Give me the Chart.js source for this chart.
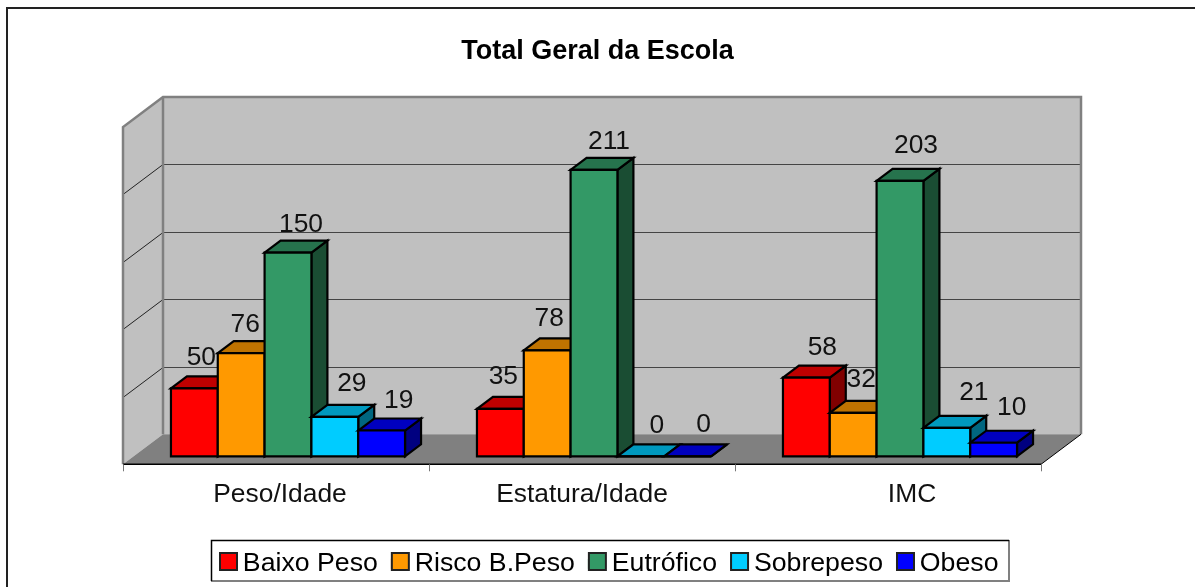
<!DOCTYPE html>
<html><head><meta charset="utf-8">
<style>html,body{margin:0;padding:0;background:#fff;overflow:hidden}#box{position:relative;width:1195px;height:587px}</style>
<script src="https://cdn.jsdelivr.net/npm/chart.js@4"></script>
</head><body><div id="box"><canvas id="c" width="1195" height="587"></canvas></div>
<script>
const categories = ["Peso/Idade", "Estatura/Idade", "IMC"];
const baixoPeso = [50, 35, 58];
const riscoBPeso = [76, 78, 32];
const eutrofico = [150, 211, 203];
const sobrepeso = [29, 0, 21];
const obeso = [19, 0, 10];
const seriesNames = ["Baixo Peso", "Risco B.Peso", "Eutrófico", "Sobrepeso", "Obeso"];
const seriesValues = [baixoPeso, riscoBPeso, eutrofico, sobrepeso, obeso];
const seriesColors = ["#ff0000", "#ff9900", "#339966", "#00ccff", "#0000ff"];
const yTicksMax = 250, yTickStep = 50;

const FONT = '"Liberation Sans", Arial, sans-serif';
const FS = 26.4;
const BAR_DEPTH = {x: 16, y: -12};
const BACK = {x: 28, y: -22, top: -20};
const FRONT = {x: -12, y: 8, top: 10};
// label nudges relative to bar centre/top, [series][category]
const labelDX = [[7,3,16],[4,2,8],[13,15,16],[17,16,27],[17,16,18]];
const labelDY = [[-33,-34,-32],[-30,-34,-35],[-30,-30,-37],[-35,-33,-37],[-32,-34,-37]];
const tickNudge = [-8, -12, 12];

function shade(hex, f){
  const n = parseInt(hex.slice(1),16);
  const c = s => Math.round(((n>>s)&255)*f);
  return `rgb(${c(16)},${c(8)},${c(0)})`;
}
function poly(ctx, pts, fill, stroke, lw){
  ctx.beginPath();
  pts.forEach((p,i)=> i?ctx.lineTo(p[0],p[1]):ctx.moveTo(p[0],p[1]));
  ctx.closePath();
  if(fill){ctx.fillStyle=fill;ctx.fill();}
  if(stroke){ctx.strokeStyle=stroke;ctx.lineWidth=lw;ctx.lineJoin='miter';ctx.stroke();}
}
function barFaces(ctx, meta, col){
  const d = BAR_DEPTH;
  meta.data.forEach(b=>{
    const l=b.x-b.width/2, r=b.x+b.width/2, t=b.y, bs=b.base;
    poly(ctx,[[r,t],[r+d.x,t+d.y],[r+d.x,bs+d.y],[r,bs]],shade(col,0.5),'#000',2.2);
    poly(ctx,[[l,t],[l+d.x,t+d.y],[r+d.x,t+d.y],[r,t]],shade(col,0.75),'#000',2.2);
  });
}
function barOutlines(ctx, meta){
  meta.data.forEach(b=>{
    const l=b.x-b.width/2, r=b.x+b.width/2;
    poly(ctx,[[l,b.y],[r,b.y],[r,b.base],[l,b.base]],null,'#000',2.2);
  });
}
const scene3d = {
  id:'scene3d',
  afterLayout(chart){
    const lg = chart.legend, pad = lg.options.labels.padding;
    const dx = 219 - (lg.left + pad + lg.right - lg.lineWidths[0]) / 2;
    lg.left += dx; lg.right += dx;
    chart.titleBlock.left += 3.5; chart.titleBlock.right += 3.5;
  },
  beforeDraw(chart){
    const ctx = chart.ctx;
    ctx.save();
    ctx.fillStyle='#fff';ctx.fillRect(0,0,chart.width,chart.height);
    ctx.strokeStyle='#222';ctx.lineWidth=2;
    ctx.beginPath();ctx.moveTo(7,587);ctx.lineTo(7,8);ctx.lineTo(1195,8);ctx.stroke();
    ctx.strokeStyle='#808080';ctx.lineWidth=2;
    ctx.beginPath();ctx.moveTo(1009,540);ctx.lineTo(1009,581);ctx.lineTo(211,581);ctx.stroke();
    ctx.strokeStyle='#000';ctx.lineWidth=1.5;
    ctx.beginPath();ctx.moveTo(211.5,581);ctx.lineTo(211.5,540.5);ctx.lineTo(1009,540.5);ctx.stroke();
    ctx.restore();
    chart.scales.x.getLabelItems(chart.chartArea).forEach((it,i)=>{
      if(!it._nudged){it.options.translation[0]+=tickNudge[i];it._nudged=true;}
    });
  },
  beforeDatasetsDraw(chart){
    const ctx = chart.ctx, a = chart.chartArea, ys = chart.scales.y;
    const bl = a.left+BACK.x, br = a.right+BACK.x, bt = a.top+BACK.top, bb = a.bottom+BACK.y;
    const fl = a.left+FRONT.x, fr = a.right+FRONT.x, ft = a.top+FRONT.top, fb = a.bottom+FRONT.y;
    ctx.save();
    poly(ctx,[[bl,bt],[br,bt],[br,bb],[bl,bb]],'#c0c0c0');
    poly(ctx,[[fl,ft],[bl,bt],[bl,bb],[fl,fb]],'#c0c0c0');
    poly(ctx,[[fl,fb],[bl,bb],[br,bb],[fr,fb]],'#808080');
    ys.ticks.forEach(t=>{
      if(t.value===0||t.value===yTicksMax) return;
      const frac = (a.bottom - ys.getPixelForValue(t.value)) / (a.bottom - a.top);
      const y = Math.round(bb + (bt-bb)*frac)+0.5;
      ctx.strokeStyle='#444';ctx.lineWidth=1;
      ctx.beginPath();ctx.moveTo(bl,y);ctx.lineTo(br,y);ctx.stroke();
      ctx.strokeStyle='#222';
      ctx.beginPath();ctx.moveTo(fl,y+FRONT.y-BACK.y);ctx.lineTo(bl,y);ctx.stroke();
    });
    ctx.strokeStyle='#808080';ctx.lineWidth=2.5;
    ctx.beginPath();ctx.moveTo(fl,fb);ctx.lineTo(fl,ft);ctx.lineTo(bl,bt);ctx.lineTo(br,bt);ctx.lineTo(br,bb);ctx.stroke();
    ctx.beginPath();ctx.moveTo(bl,bt);ctx.lineTo(bl,bb);ctx.stroke();
    ctx.strokeStyle='#000';ctx.lineWidth=1.5;
    ctx.beginPath();ctx.moveTo(fl,fb);ctx.lineTo(fr,fb);ctx.stroke();
    ctx.lineWidth=1;
    ctx.beginPath();ctx.moveTo(fr,fb);ctx.lineTo(br,bb);ctx.stroke();
    const n = categories.length, w = (a.right-a.left)/n;
    for(let i=0;i<=n;i++){
      const x = Math.round(fl+i*w)+0.5;
      ctx.strokeStyle='#777';
      ctx.beginPath();ctx.moveTo(x,fb);ctx.lineTo(x,fb+7);ctx.stroke();
    }
    // bars left to right so that each bar overlaps the depth of the previous one
    chart.data.datasets.forEach((ds,si)=>{
      const meta = chart.getDatasetMeta(si);
      barFaces(ctx, meta, seriesColors[si]);
      meta.controller.draw();
      barOutlines(ctx, meta);
    });
    ctx.fillStyle='#111';ctx.font=`${FS}px ${FONT}`;ctx.textAlign='center';ctx.textBaseline='middle';
    chart.data.datasets.forEach((ds,si)=>{
      chart.getDatasetMeta(si).data.forEach((b,ci)=>{
        ctx.fillText(String(ds.data[ci]), b.x+labelDX[si][ci], b.y+labelDY[si][ci]+2);
      });
    });
    ctx.restore();
    return false;
  },
  afterDraw(chart){
    const ctx = chart.ctx, lg = chart.legend;
    ctx.save();
    lg.legendHitBoxes.forEach((h,i)=>{
      poly(ctx,[[h.left+1,553],[h.left+18,553],[h.left+18,570],[h.left+1,570]],seriesColors[i],'#222',2);
    });
    ctx.restore();
  }
};

new Chart(document.getElementById('c'),{
  type:'bar',
  data:{
    labels:categories,
    datasets:seriesNames.map((name,i)=>({
      label:name,
      data:seriesValues[i],
      backgroundColor:seriesColors[i],
      borderWidth:0,
      categoryPercentage:0.765,
      barPercentage:1
    }))
  },
  options:{
    responsive:false,
    animation:false,
    layout:{padding:{left:135,right:142,top:35,bottom:0}},
    scales:{
      x:{
        grid:{display:false},
        border:{display:false},
        afterFit(s){s.height=81;},
        ticks:{color:'#111',padding:15,maxRotation:0,autoSkip:false,font:{family:FONT,size:FS}}
      },
      y:{
        min:0,max:yTicksMax,
        grid:{display:false},
        border:{display:false},
        afterFit(s){s.width=0;},
        ticks:{display:false,stepSize:yTickStep}
      }
    },
    plugins:{
      tooltip:{enabled:false},
      title:{display:true,text:"Total Geral da Escola",color:'#000',
        font:{family:FONT,size:27,weight:'bold'},padding:{top:0,bottom:49.6}},
      legend:{position:'bottom',
        labels:{boxWidth:10.5,boxHeight:10,padding:13,color:'#000',font:{family:FONT,size:26.7}}}
    }
  },
  plugins:[scene3d]
});
</script></body></html>
